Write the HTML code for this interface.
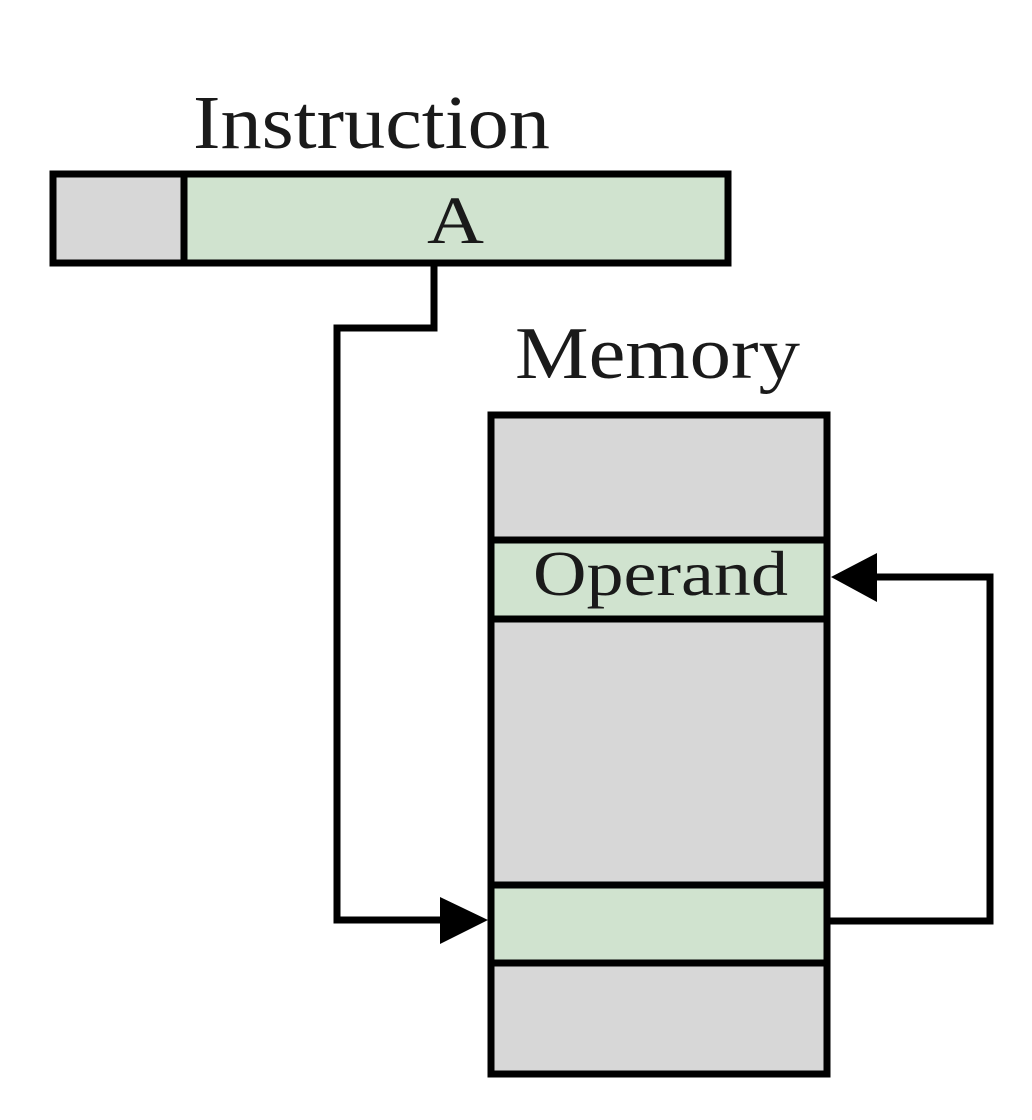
<!DOCTYPE html>
<html><head><style>html,body{margin:0;padding:0;background:#fff;}svg{display:block}</style></head>
<body>
<svg width="1032" height="1120" viewBox="0 0 1032 1120" xmlns="http://www.w3.org/2000/svg">
<g font-family="Liberation Serif, serif" fill="#1a1a1a">
<text x="193" y="148" font-size="76" textLength="357" lengthAdjust="spacingAndGlyphs">Instruction</text>
<text x="515" y="378" font-size="74" textLength="285" lengthAdjust="spacingAndGlyphs">Memory</text>
</g>
<g stroke="#000" stroke-width="7">
<rect x="53" y="174" width="131" height="89" fill="#d7d7d7"/>
<rect x="184" y="174" width="544" height="89" fill="#d0e3cf"/>
<rect x="491" y="415" width="336" height="659" fill="#d7d7d7"/>
<rect x="491" y="540" width="336" height="79" fill="#d0e3cf"/>
<rect x="491" y="885" width="336" height="78" fill="#d0e3cf"/>
<polyline points="434,263 434,328 337,328 337,920 445,920" fill="none"/>
<polyline points="830,921 990,921 990,577 875,577" fill="none"/>
</g>
<polygon points="440,897 488,920 440,944" fill="#000"/>
<polygon points="877,553 831,577 877,602" fill="#000"/>
<g font-family="Liberation Serif, serif" fill="#1a1a1a">
<text x="427" y="243" font-size="68" textLength="57" lengthAdjust="spacingAndGlyphs">A</text>
<text x="533" y="595" font-size="64" textLength="255" lengthAdjust="spacingAndGlyphs">Operand</text>
</g>
</svg>
</body></html>
